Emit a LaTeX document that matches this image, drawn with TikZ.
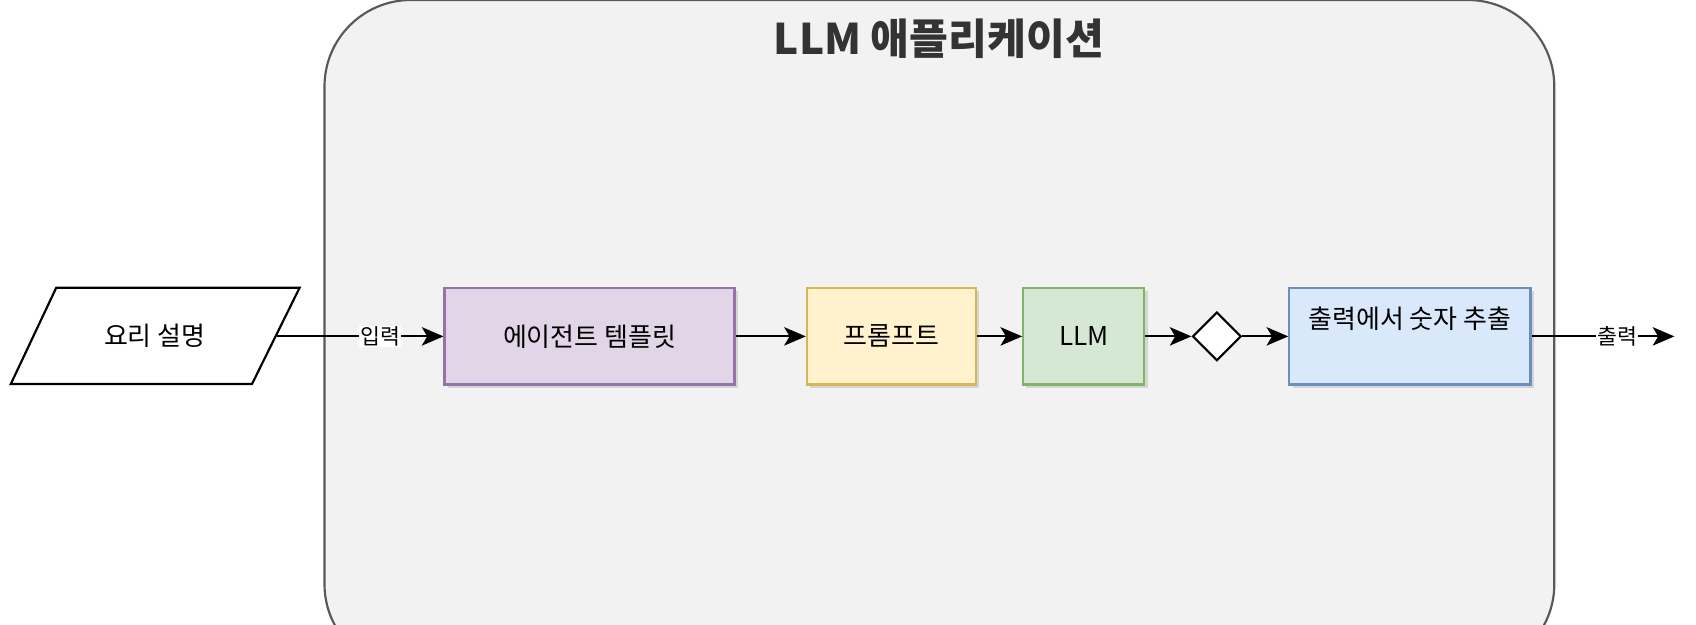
\documentclass[tikz,border=0pt]{standalone}
\usepackage{fontspec}
\setmainfont{Noto Sans CJK KR}
\usetikzlibrary{shapes.geometric,arrows.meta,shadows}
\definecolor{pf}{HTML}{E1D5E7}\definecolor{pd}{HTML}{9673A6}
\definecolor{yf}{HTML}{FFF2CC}\definecolor{yd}{HTML}{D6B656}
\definecolor{gf}{HTML}{D5E8D4}\definecolor{gd}{HTML}{82B366}
\definecolor{bf}{HTML}{DAE8FC}\definecolor{bd}{HTML}{6C8EBF}
\definecolor{bg}{HTML}{F2F2F2}
\begin{document}
\begin{tikzpicture}[x=1pt,y=-1pt,
  box/.style={draw,line width=2pt,minimum height=89pt,font=\fontsize{24}{28}\selectfont,drop shadow={opacity=0.25,shadow xshift=3pt,shadow yshift=-3pt}},
  arr/.style={-{Stealth[length=20pt,width=17pt,inset=5pt]},line width=2pt},
  lab/.style={fill=white,inner sep=1pt,font=\fontsize{20}{24}\selectfont}]
\useasboundingbox (0,0) rectangle (1568,577);
\fill[white] (0,0) rectangle (1568,577);
\draw[fill=bg,draw=black!65,line width=2pt,rounded corners=80pt] (300,0) rectangle (1437,620);
\node[font=\bfseries\fontsize{39}{44}\selectfont,text=black!80] (title) at (868,36) {LLM 애플리케이션};
\draw[line width=2pt,fill=white] (52,266) -- (277,266) -- (233,355) -- (10,355) -- cycle;
\node[font=\fontsize{24}{28}\selectfont] (in) at (143,310) {요리 설명};
\coordinate (inR) at (256,311);
\node[box,fill=pf,draw=pd,minimum width=268pt] (tpl) at (545,311) {에이전트 템플릿};
\node[box,fill=yf,draw=yd,minimum width=156pt] (pr) at (824,311) {프롬프트};
\node[box,fill=gf,draw=gd,minimum width=112pt] (llm) at (1002,311) {LLM};
\node[diamond,draw,fill=white,line width=2pt,minimum width=45pt,minimum height=45pt,inner sep=0] (d) at (1125,311) {};
\node[box,fill=bf,draw=bd,minimum width=223pt] (ex) at (1303.5,311) {};
\node[font=\fontsize{24}{28}\selectfont] at (1303.5,295) {출력에서 숫자 추출};
\coordinate (out) at (1548,311);
\draw[arr] (inR) -- node[lab,pos=0.62]{입력} (tpl);
\draw[arr] (tpl) -- (pr);
\draw[arr] (pr) -- (llm);
\draw[arr] (llm) -- (d);
\draw[arr] (d) -- (ex);
\draw[arr] (ex) -- node[lab,pos=0.6]{출력} (out);
\end{tikzpicture}
\end{document}
